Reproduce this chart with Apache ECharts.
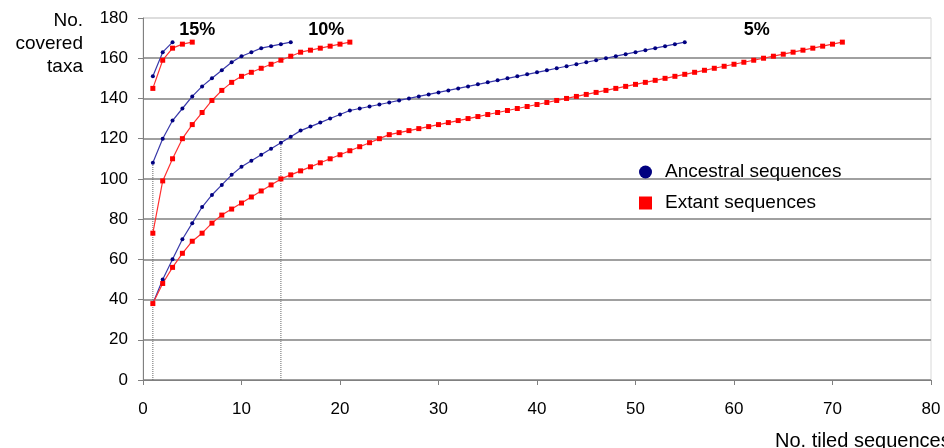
<!DOCTYPE html>
<html>
<head>
<meta charset="utf-8">
<script src="https://cdn.jsdelivr.net/npm/echarts@6/dist/echarts.min.js"></script>
<style>
html,body{margin:0;padding:0;background:#fff;}
#chart{width:944px;height:448px;}
</style>
</head>
<body>
<div id="chart"></div>
<script>
// ---- data (x = number of tiled sequences, starting at 1) ----
const anc15 = [151,163,168];
const ext15 = [145,159,165,167,168];
const anc10 = [108,120,129,135,141,146,150,154,158,161,163,165,166,167,168];
const ext10 = [73,99,110,120,127,133,139,144,148,151,153,155,157,159,161,163,164,165,166,167,168];
const anc5 = [38,50,60,70,78,86,92,97,102,106,109,112,115,118,121,124,126,128,130,132,134,
  135,136,137,138,139,140,141,142,143,144,145,146,147,148,149,150,151,152,153,154,155,156,157,158,159,160,161,162,163,164,165,166,167,168];
const ext5 = [38,48,56,63,69,73,78,82,85,88,91,94,97,100,102,104,106,108,110,112,114,116,118,120,
  122,123,124,125,126,127,128,129,130,131,132,133,134,135,136,137,138,139,140,141,142,143,144,145,146,147,148,149,150,151,152,153,154,155,156,157,158,159,160,161,162,163,164,165,166,167,168];
const dropX = [1, 14];
const dropY = [108, 118];
const pctLabels = ['15%','10%','5%'];
const pctX = [5.5, 18.6, 62.3];
const pctY = [174, 174, 174];
const xTicks = [0,10,20,30,40,50,60,70,80];
const yTicks = [0,20,40,60,80,100,120,140,160,180];
const legendNames = ['Ancestral sequences','Extant sequences'];

const FONT = '"Liberation Sans", Arial, sans-serif';
const BLUE_LINE = '#3a3aaa';
const BLUE_PT = '#000080';
const RED_LINE = '#ff3030';
const RED_PT = '#ff0000';

const toPairs = arr => arr.map((v,i)=>[i+1, v]);

function lineSeries(name, arr, isAnc){
  return {
    name: name, type:'line', data: toPairs(arr),
    symbol: isAnc ? 'circle' : 'rect',
    symbolSize: isAnc ? 4 : 5,
    showSymbol: true,
    lineStyle: {color: isAnc ? BLUE_LINE : RED_LINE, width: 1.2},
    itemStyle: {color: isAnc ? BLUE_PT : RED_PT, borderWidth:0},
    emphasis:{disabled:true},
    animation:false, z:3
  };
}

const series = [];
dropX.forEach((x,i)=>{
  series.push({type:'line', data:[[x,0],[x,dropY[i]]], symbol:'none',
    lineStyle:{color:'#666', width:1, type:'dotted'}, silent:true, animation:false, z:2});
});
series.push(lineSeries(legendNames[0], anc15, true));
series.push(lineSeries(legendNames[1], ext15, false));
series.push(lineSeries(legendNames[0], anc10, true));
series.push(lineSeries(legendNames[1], ext10, false));
series.push(lineSeries(legendNames[0], anc5, true));
series.push(lineSeries(legendNames[1], ext5, false));
series.push({
  type:'scatter', silent:true, animation:false, symbolSize:0,
  itemStyle:{opacity:1, color:'#000'},
  emphasis:{disabled:true},
  data: pctLabels.map((t,i)=>({name:t, value:[pctX[i], pctY[i]]})),
  label:{show:true, position:'inside', formatter:p=>p.name, color:'#000', opacity:1,
    textBorderWidth:0, textBorderColor:'transparent',
    fontFamily:FONT, fontWeight:'bold', fontSize:18}
});

const splitColors = yTicks.map((v,i)=> i===yTicks.length-1 ? '#dddddd' : '#a0a0a0');

const chart = echarts.init(document.getElementById('chart'), null, {renderer:'canvas'});
chart.setOption({
  backgroundColor:'#fff',
  animation:false,
  grid:{left:143, right:13, top:18, bottom:68, show:true, borderColor:'#d8d8d8', borderWidth:1},
  xAxis:{type:'value', min:xTicks[0], max:xTicks[xTicks.length-1], interval:10,
    axisLine:{show:true, onZero:false, lineStyle:{color:'#808080', width:1}},
    axisTick:{show:true, length:5, lineStyle:{color:'#808080'}},
    axisLabel:{color:'#000', fontFamily:FONT, fontSize:17, margin:21},
    splitLine:{show:false}},
  yAxis:{type:'value', min:yTicks[0], max:yTicks[yTicks.length-1], interval:20,
    axisLine:{show:true, onZero:false, lineStyle:{color:'#808080', width:1}},
    axisTick:{show:true, length:5, lineStyle:{color:'#808080'}},
    axisLabel:{color:'#000', fontFamily:FONT, fontSize:17, margin:15},
    splitLine:{show:true, lineStyle:{color:splitColors, width:2}}},
  legend:{
    orient:'vertical', left:634, top:157, itemGap:11,
    itemWidth:13, itemHeight:13, selectedMode:false,
    data:[{name:legendNames[0], icon:'circle'},{name:legendNames[1], icon:'rect'}],
    textStyle:{color:'#000', fontFamily:FONT, fontSize:19, lineHeight:20, padding:[0,0,0,8]}
  },
  graphic:[
    {type:'text', right:944-83, top:11, style:{text:'No.', fill:'#000', font:'19px '+FONT, textAlign:'right'}},
    {type:'text', right:944-83, top:34, style:{text:'covered', fill:'#000', font:'19px '+FONT, textAlign:'right'}},
    {type:'text', right:944-83, top:57, style:{text:'taxa', fill:'#000', font:'19px '+FONT, textAlign:'right'}},
    {type:'text', left:775, top:431, style:{text:'No. tiled sequences', fill:'#000', font:'20px '+FONT}}
  ],
  series: series
});
</script>
</body>
</html>
